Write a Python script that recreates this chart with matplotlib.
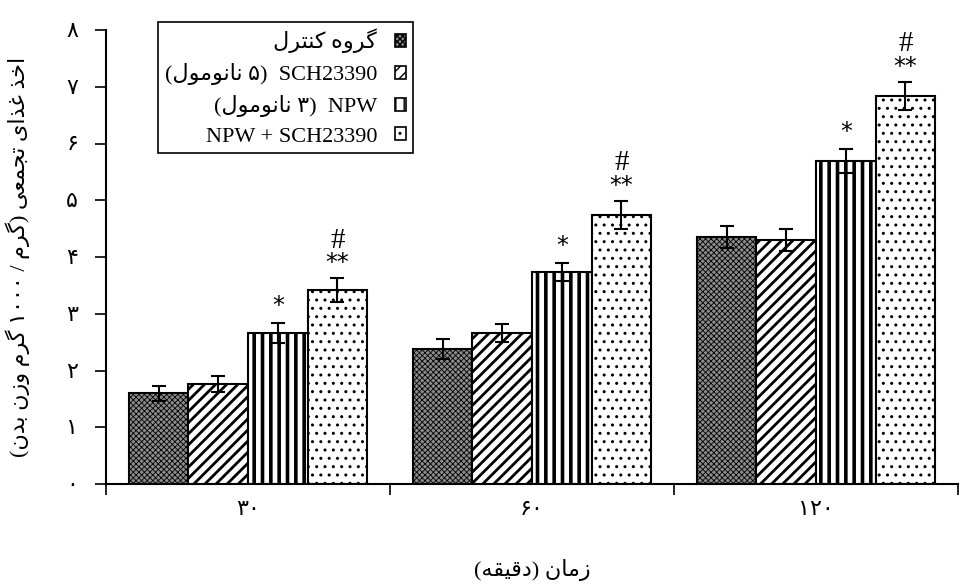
import matplotlib
matplotlib.use("Agg")
import matplotlib.pyplot as plt
from matplotlib.patches import Patch
import numpy as np

# forms: isolated, final, initial, medial (None = right-joining only)
FORMS = {
    "ا": ("\uFE8D", "\uFE8E", None, None),
    "ب": ("\uFE8F", "\uFE90", "\uFE91", "\uFE92"),
    "ت": ("\uFE95", "\uFE96", "\uFE97", "\uFE98"),
    "ج": ("\uFE9D", "\uFE9E", "\uFE9F", "\uFEA0"),
    "خ": ("\uFEA5", "\uFEA6", "\uFEA7", "\uFEA8"),
    "د": ("\uFEA9", "\uFEAA", None, None),
    "ذ": ("\uFEAB", "\uFEAC", None, None),
    "ر": ("\uFEAD", "\uFEAE", None, None),
    "ز": ("\uFEAF", "\uFEB0", None, None),
    "ع": ("\uFEC9", "\uFECA", "\uFECB", "\uFECC"),
    "غ": ("\uFECD", "\uFECE", "\uFECF", "\uFED0"),
    "ق": ("\uFED5", "\uFED6", "\uFED7", "\uFED8"),
    "ل": ("\uFEDD", "\uFEDE", "\uFEDF", "\uFEE0"),
    "م": ("\uFEE1", "\uFEE2", "\uFEE3", "\uFEE4"),
    "ن": ("\uFEE5", "\uFEE6", "\uFEE7", "\uFEE8"),
    "ه": ("\uFEE9", "\uFEEA", "\uFEEB", "\uFEEC"),
    "و": ("\uFEED", "\uFEEE", None, None),
    "ک": ("\uFB8E", "\uFB8F", "\uFB90", "\uFB91"),
    "گ": ("\uFB92", "\uFB93", "\uFB94", "\uFB95"),
    "ی": ("\uFBFC", "\uFBFD", "\uFBFE", "\uFBFF"),
}


def shape(word):
    """Persian word -> presentation forms in visual (LTR) order."""
    out = []
    n = len(word)
    for i, ch in enumerate(word):
        f = FORMS.get(ch)
        if f is None:
            out.append(ch)
            continue
        prev = FORMS.get(word[i - 1]) if i > 0 else None
        nxt = FORMS.get(word[i + 1]) if i < n - 1 else None
        jp = prev is not None and prev[2] is not None
        jn = nxt is not None and f[2] is not None
        if jp and jn:
            out.append(f[3])
        elif jp:
            out.append(f[1])
        elif jn:
            out.append(f[2])
        else:
            out.append(f[0])
    return "".join(reversed(out))


def fa(phrase):
    return " ".join(shape(w) for w in reversed(phrase.split()))


# data
groups = ["۳۰", "۶۰", "۱۲۰"]
control = [1.60, 2.38, 4.35]
sch = [1.76, 2.66, 4.30]
npw = [2.66, 3.74, 5.69]
combo = [3.42, 4.74, 6.84]
control_err = [0.13, 0.17, 0.19]
sch_err = [0.14, 0.16, 0.20]
npw_err = [0.17, 0.16, 0.21]
combo_err = [0.21, 0.25, 0.25]
yticks_fa = ["۰", "۱", "۲", "۳", "۴", "۵", "۶", "۷", "۸"]

labels = [
    fa("گروه کنترل"),
    "(" + shape("نانومول") + " ۵)  SCH23390",
    "(" + shape("نانومول") + " ۳)  NPW",
    "NPW + SCH23390",
]
ylab = ("(" + shape("بدن") + " " + shape("وزن") + " " + shape("گرم")
        + " ۱۰۰۰ / " + shape("گرم") + ") " + fa("اخذ غذای تجمعی"))
xlab = "(" + shape("دقیقه") + ") " + shape("زمان")

FAM = ["Liberation Serif", "DejaVu Sans"]
plt.rcParams["font.family"] = FAM
plt.rcParams["hatch.color"] = "black"

fig = plt.figure(figsize=(9.61, 5.86), dpi=100)
ax = fig.add_axes([106 / 961, 1 - 484 / 586, 852 / 961, (484 - 30) / 586])

x = np.arange(len(groups)) + 0.5
w = 0.21
series = [
    (control, control_err, "#8c8c8c", "xxxxxx", 0.6),
    (sch, sch_err, "white", "///", 2.0),
    (npw, npw_err, "white", "||", 2.6),
    (combo, combo_err, "white", "..", 1.0),
]
handles = []
for j, (vals, err, fc, hatch, hlw) in enumerate(series):
    plt.rcParams["hatch.linewidth"] = hlw
    pos = x + (j - 1.5) * w
    ax.bar(pos, vals, w, color=fc, edgecolor="black", linewidth=1.5, hatch=hatch, zorder=2)
    ax.errorbar(pos, vals, yerr=err, fmt="none", ecolor="black", elinewidth=1.5,
                capsize=5, capthick=1.5, zorder=3)
    handles.append(Patch(facecolor=fc, edgecolor="black", linewidth=1.2, hatch=hatch))

# significance marks
for i in range(3):
    p3 = x[i] + 0.5 * w
    p4 = x[i] + 1.5 * w
    ax.text(p3, npw[i] + npw_err[i] + 0.30, "*", ha="center", va="center",
            fontsize=17, family="DejaVu Sans")
    ax.text(p4, combo[i] + combo_err[i] + 0.26, "**", ha="center", va="center",
            fontsize=17, family="DejaVu Sans")
    ax.text(p4, combo[i] + combo_err[i] + 0.66, "#", ha="center", va="center",
            fontsize=21)

ax.set_xlim(0, 3)
ax.set_ylim(0, 8)
ax.set_yticks(range(9))
ax.set_yticklabels(yticks_fa, fontsize=16)
ax.set_xticks([0, 1, 2, 3])
ax.set_xticklabels([])
ax.set_xticks(x, minor=True)
ax.set_xticklabels(groups, minor=True, fontsize=16)
ax.tick_params(axis="x", which="minor", length=0, pad=12)
ax.tick_params(axis="both", which="major", length=8, width=1.2, direction="out")
ax.tick_params(axis="y", pad=12)
for s in ["top", "right"]:
    ax.spines[s].set_visible(False)
for s in ["left", "bottom"]:
    ax.spines[s].set_linewidth(1.5)

ax.set_xlabel(xlab, fontsize=16, labelpad=28)
ax.set_ylabel(ylab, fontsize=16, labelpad=26)

leg = ax.legend(handles, labels, loc="upper left",
                bbox_to_anchor=(158 / 961, 1 - 22 / 586), bbox_transform=fig.transFigure,
                markerfirst=False, fontsize=16, frameon=True, fancybox=False,
                edgecolor="black", framealpha=1, handlelength=0.5, handleheight=0.5,
                handletextpad=0.8, labelspacing=0.45, borderpad=0.3, borderaxespad=0)
leg.get_frame().set_linewidth(1.2)

fig.savefig("out.png", dpi=100)
